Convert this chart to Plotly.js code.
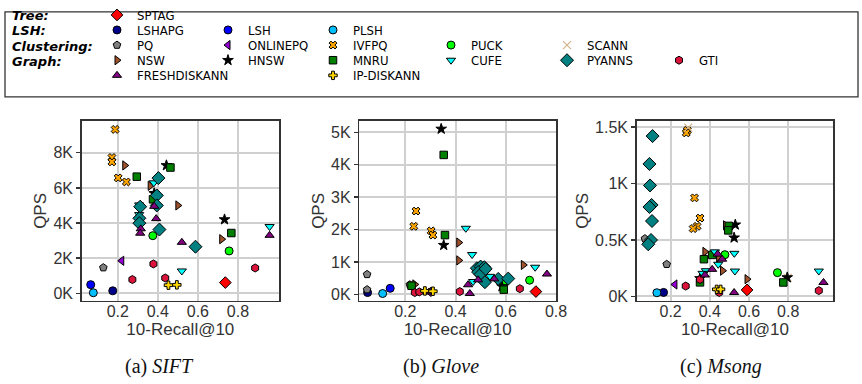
<!DOCTYPE html>
<html><head><meta charset="utf-8">
<script src="https://cdn.plot.ly/plotly-3.0.1.min.js"></script>
<style>html,body{margin:0;padding:0;background:#fff}#chart{width:862px;height:384px}</style>
</head><body><div id="chart"></div>
<script>
const W = 862, H = 384;

const methods = ['SPTAG','LSHAPG','LSH','PLSH','PQ','ONLINEPQ','IVFPQ','PUCK','SCANN','NSW','HNSW','MNRU','CUFE','PYANNS','GTI','FRESHDISKANN','IP-DISKANN'];
const colors  = ['#ff0000','#00008b','#0000ff','#00bfff','#808080','#9400d3','#ffa500','#00ff00','#d2b48c','#a0522d','#000000','#008000','#00ffff','#008080','#dc143c','#800080','#ffd700'];
const symbols = ['diamond','circle','circle','circle','pentagon','triangle-left','x','circle','x-thin-open','triangle-right','star','square','triangle-down','diamond','hexagon','triangle-up','cross'];
const sizes   = [9,8,8,8,8,8,7,8,8,8,8,7.5,8,10,8,8,7];
const legendRow = [0,1,1,1,2,2,2,2,2,3,3,3,3,3,3,4,4];
const legendCol = [0,0,1,2,0,1,2,3,4,0,1,2,3,4,5,0,2];
const groupLabels = ['Tree:','LSH:','Clustering:','Graph:'];

// SIFT
const siftRecall = [
  [0.737],[0.175],[0.065],[0.078],[0.128],[0.22],
  [0.187,0.171,0.171,0.202,0.243],
  [0.375,0.756],
  [],
  [0.235,0.362,0.5,0.719],
  [0.443,0.382,0.733],
  [0.295,0.463,0.376,0.767],
  [0.38,0.307,0.307,0.52,0.958],
  [0.403,0.395,0.312,0.395,0.308,0.308,0.408,0.588],
  [0.378,0.273,0.437,0.886],
  [0.382,0.392,0.315,0.312,0.52,0.958],
  [0.453,0.495]
];
const siftQPS = [
  [610],[140],[490],[30],[1460],[1850],
  [9330,7730,7480,6570,6340],
  [3280,2410],
  [],
  [7280,6120,5000,3080],
  [7280,5690,4200],
  [6640,7160,5350,3430],
  [6290,5030,4480,1270,3800],
  [6560,5570,4930,5000,4270,3990,3630,2650],
  [1670,780,870,1440],
  [4950,4250,3670,3420,2900,3300],
  [460,480]
];
// Glove
const gloveRecall = [
  [0.72],[0.05],[0.14],[0.11],[0.048,0.048,0.218],[0.295],
  [0.243,0.234,0.303,0.31],
  [0.695,0.593],
  [],
  [0.413,0.413,0.67,0.238],
  [0.343,0.353,0.585],
  [0.353,0.358,0.592,0.225],
  [0.441,0.466,0.717,0.47,0.537],
  [0.485,0.5,0.515,0.51,0.49,0.5,0.52,0.517,0.57,0.61],
  [0.417,0.656,0.238,0.256],
  [0.45,0.49,0.554,0.764,0.457,0.295],
  [0.278,0.31]
];
const gloveQPS = [
  [90],[60],[190],[30],[620,150,300],[80],
  [2570,2100,1960,1830],
  [440,310],
  [],
  [1600,1050,910,310],
  [5100,1520,250],
  [4300,1830,150,270],
  [2040,1230,840,400,560],
  [810,860,840,710,690,620,790,380,480,490],
  [90,180,60,80],
  [300,450,480,630,30,80],
  [110,100]
];
// Msong
const msongRecall = [
  [0.59],[0.164],[],[0.13],[0.069,0.18],[0.222],
  [0.285,0.28,0.322,0.35,0.335,0.315],
  [0.477,0.745],
  [0.29,0.797],
  [0.48,0.375,0.465,0.59,0.445],
  [0.53,0.524,0.795,0.35],
  [0.497,0.494,0.37,0.412,0.35,0.775],
  [0.426,0.525,0.443,0.38,0.363,0.528,0.956],
  [0.108,0.092,0.095,0.103,0.092,0.105,0.1,0.086],
  [0.277,0.35,0.448,0.956],
  [0.463,0.412,0.375,0.524,0.98,0.44],
  [0.435,0.455]
];
const msongQPS = [
  [58],[36],[],[33],[512,285],[106],
  [1470,1448,873,694,621,601],
  [370,211],
  [1495,165],
  [630,395,228,153,345],
  [635,520,168,160],
  [625,585,330,368,125,124],
  [395,382,285,228,205,225,225],
  [1420,1173,983,810,792,668,500,462],
  [92,150,35,52],
  [330,240,190,35,124,375],
  [63,63]
];

const xTickVals = [0.2,0.4,0.6,0.8];
const xTickText = ['0.2','0.4','0.6','0.8'];
const siftYTicks = [0,2000,4000,6000,8000];
const siftYText = ['0K','2K','4K','6K','8K'];
const gloveYTicks = [0,1000,2000,3000,4000,5000];
const gloveYText = ['0K','1K','2K','3K','4K','5K'];
const msongYTicks = [0,500,1000,1500];
const msongYText = ['0K','0.5K','1K','1.5K'];
const captions = ['(a) <i>SIFT</i>','(b) <i>Glove</i>','(c) <i>Msong</i>'];

const datasets = [
  {r: siftRecall, q: siftQPS},
  {r: gloveRecall, q: gloveQPS},
  {r: msongRecall, q: msongQPS}
];

// pixel layout helpers
const px = v => v / W;
const py = v => 1 - v / H;

const plotBoxes = [[81.7,279],[359.3,556],[636.7,833.3]];
const plotTop = 114.5, plotBottom = 299;
const xRanges = [[0.02,1.005],[0.017,0.8],[0.027,1.03]];
const yRanges = [[-440,9820],[-200,5350],[-40,1555]];
const yTicks = [[siftYTicks,siftYText],[gloveYTicks,gloveYText],[msongYTicks,msongYText]];
const captionX = [159, 441, 721];

const colX = [121, 232, 337, 455, 571, 683];
const rowY = [6, 21.5, 37, 52.5, 68];

const traces = [];
methods.forEach((m, i) => {
  let legendDs = datasets.findIndex(d => d.r[i].length > 0);
  datasets.forEach((d, k) => {
    const sfx = k === 0 ? '' : String(k + 1);
    const isThin = symbols[i] === 'x-thin-open';
    traces.push({
      type: 'scatter', mode: 'markers',
      x: d.r[i], y: d.q[i],
      xaxis: 'x' + sfx, yaxis: 'y' + sfx,
      name: m, legendgroup: m,
      legend: i === 0 ? 'legend' : 'legend' + (i + 1),
      showlegend: k === legendDs,
      cliponaxis: false,
      marker: {
        symbol: symbols[i], size: sizes[i], color: colors[i],
        line: {color: isThin ? colors[i] : '#000', width: isThin ? 1.2 : 1}
      }
    });
  });
});

const layout = {
  width: W, height: H,
  margin: {l: 0, r: 0, t: 0, b: 0},
  paper_bgcolor: '#fff', plot_bgcolor: '#fff',
  font: {family: 'Liberation Sans, Arial, sans-serif', color: '#333', size: 15},
  shapes: [{type: 'rect', xref: 'paper', yref: 'paper', x0: px(5), x1: px(858), y0: py(90), y1: py(3),
            line: {color: '#333', width: 1.3}, fillcolor: 'rgba(0,0,0,0)'}],
  annotations: []
};

for (let k = 0; k < 3; k++) {
  const sfx = k === 0 ? '' : String(k + 1);
  layout['xaxis' + sfx] = {
    domain: [px(plotBoxes[k][0]), px(plotBoxes[k][1])],
    anchor: 'y' + sfx, range: xRanges[k],
    tickvals: xTickVals, ticktext: xTickText,
    showgrid: true, gridcolor: '#d0d0d0', gridwidth: 2,
    zeroline: false, showline: true, mirror: true, linecolor: '#333', linewidth: 1.5,
    ticks: '', ticklabelstandoff: -5,
    tickfont: {size: 16, color: '#333'},
    title: {text: '10-Recall@10', font: {size: 17, color: '#333'}, standoff: 0}
  };
  layout['yaxis' + sfx] = {
    domain: [py(plotBottom), py(plotTop)],
    anchor: 'x' + sfx, range: yRanges[k],
    tickvals: yTicks[k][0], ticktext: yTicks[k][1],
    showgrid: true, gridcolor: '#d0d0d0', gridwidth: 2,
    zeroline: false, showline: true, mirror: true, linecolor: '#333', linewidth: 1.5,
    ticks: 'outside', ticklen: 4, tickcolor: '#333', tickwidth: 1.3,
    tickfont: {size: 16, color: '#333'},
    title: {text: 'QPS', font: {size: 17, color: '#333'}, standoff: 2}
  };
  layout.annotations.push({
    xref: 'paper', yref: 'paper', x: px(captionX[k]), y: py(366),
    xanchor: 'center', yanchor: 'middle', showarrow: false,
    text: captions[k], font: {family: 'Liberation Serif, DejaVu Serif, serif', size: 20, color: '#111'}
  });
}

groupLabels.forEach((g, r) => {
  layout.annotations.push({
    xref: 'paper', yref: 'paper', x: px(11), y: py(rowY[r] + 1),
    xanchor: 'left', yanchor: 'middle', showarrow: false, borderpad: 0,
    text: '<b><i>' + g + '</i></b>', font: {family: 'DejaVu Sans, sans-serif', size: 13, color: '#000'}
  });
});

methods.forEach((m, i) => {
  const key = i === 0 ? 'legend' : 'legend' + (i + 1);
  layout[key] = {
    x: px(colX[legendCol[i]] - 24), y: py(rowY[legendRow[i]]),
    xanchor: 'left', yanchor: 'middle',
    bgcolor: 'rgba(0,0,0,0)', borderwidth: 0,
    font: {family: 'Liberation Sans Narrow, DejaVu Sans Condensed, Arial Narrow, Liberation Sans, sans-serif', size: 13, color: '#000'},
    itemclick: false, itemdoubleclick: false
  };
});

Plotly.newPlot('chart', traces, layout, {staticPlot: true, displayModeBar: false});
</script></body></html>
